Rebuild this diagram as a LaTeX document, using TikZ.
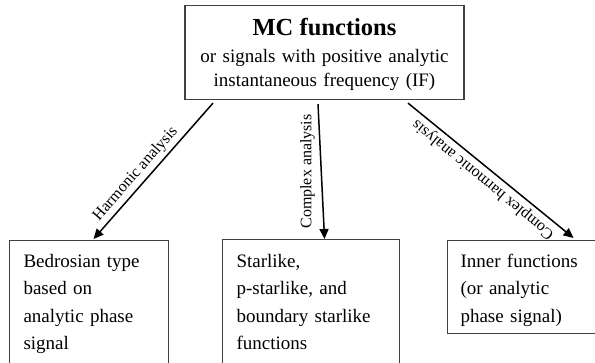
\documentclass[tikz,border=0pt]{standalone}
\usepackage{fontspec}
\setmainfont{Liberation Serif}
\usetikzlibrary{arrows.meta}
\begin{document}
\begin{tikzpicture}[x=1pt,y=-1pt,
  box/.style={draw=black!75, line width=1.1pt, inner ysep=0pt, anchor=north west, align=left,
    font=\fontsize{19}{27.4}\selectfont, text height=27pt},
  topbox/.style={draw=black!75, line width=1.1pt, inner sep=0pt, anchor=north, align=center,
    text width=279pt, text height=30pt, text depth=64pt, font=\fontsize{19}{24}\selectfont},
  arr/.style={line width=1.5pt, -{Triangle[length=10pt,width=9pt]}},
  lbl/.style={font=\fontsize{16}{18}\selectfont, anchor=south}]
\useasboundingbox (0,0) rectangle (595,362);
\fill[white] (0,0) rectangle (595,362);
\clip (0,0) rectangle (595,362);

\node[topbox] (top) at (324.5,5) {{\fontsize{24.5}{24}\selectfont\bfseries MC functions}\\[3pt]
  or signals with positive analytic\\ instantaneous frequency (IF)};

\node[box, inner xsep=14pt, text width=131pt, text depth=130pt] (b1) at (9,240)
  {Bedrosian type\\ based on\\ analytic phase\\ signal};
\node[box, inner xsep=14pt, text width=149pt, text depth=130pt, text height=28pt] (b2) at (222,239)
  {Starlike,\\ p-starlike, and\\ boundary starlike\\ functions};
\node[box, inner xsep=13pt, text width=167pt, text depth=66pt] (b3) at (447,240)
  {Inner functions\\ (or analytic\\ phase signal)};

\draw[arr] ([xshift=-111.5pt,yshift=-3pt]top.south) -- ([xshift=4.5pt,yshift=1pt]b1.north)
  node[lbl, pos=0.576, rotate=48.8, inner sep=3.3pt] (l1) {Harmonic analysis};
\draw[arr] ([xshift=-6.5pt,yshift=-4pt]top.south) -- ([xshift=13.5pt]b2.north)
  node[lbl, pos=0.5, rotate=90, inner sep=5.8pt] (l2) {Complex analysis};
\draw[arr] ([xshift=83.5pt,yshift=-3pt]top.south) -- ([xshift=29.5pt,yshift=2pt]b3.north)
  node[lbl, pos=0.5, rotate=140.5, inner sep=3.6pt] (l3) {Complex harmonic analysis};
\end{tikzpicture}
\end{document}
